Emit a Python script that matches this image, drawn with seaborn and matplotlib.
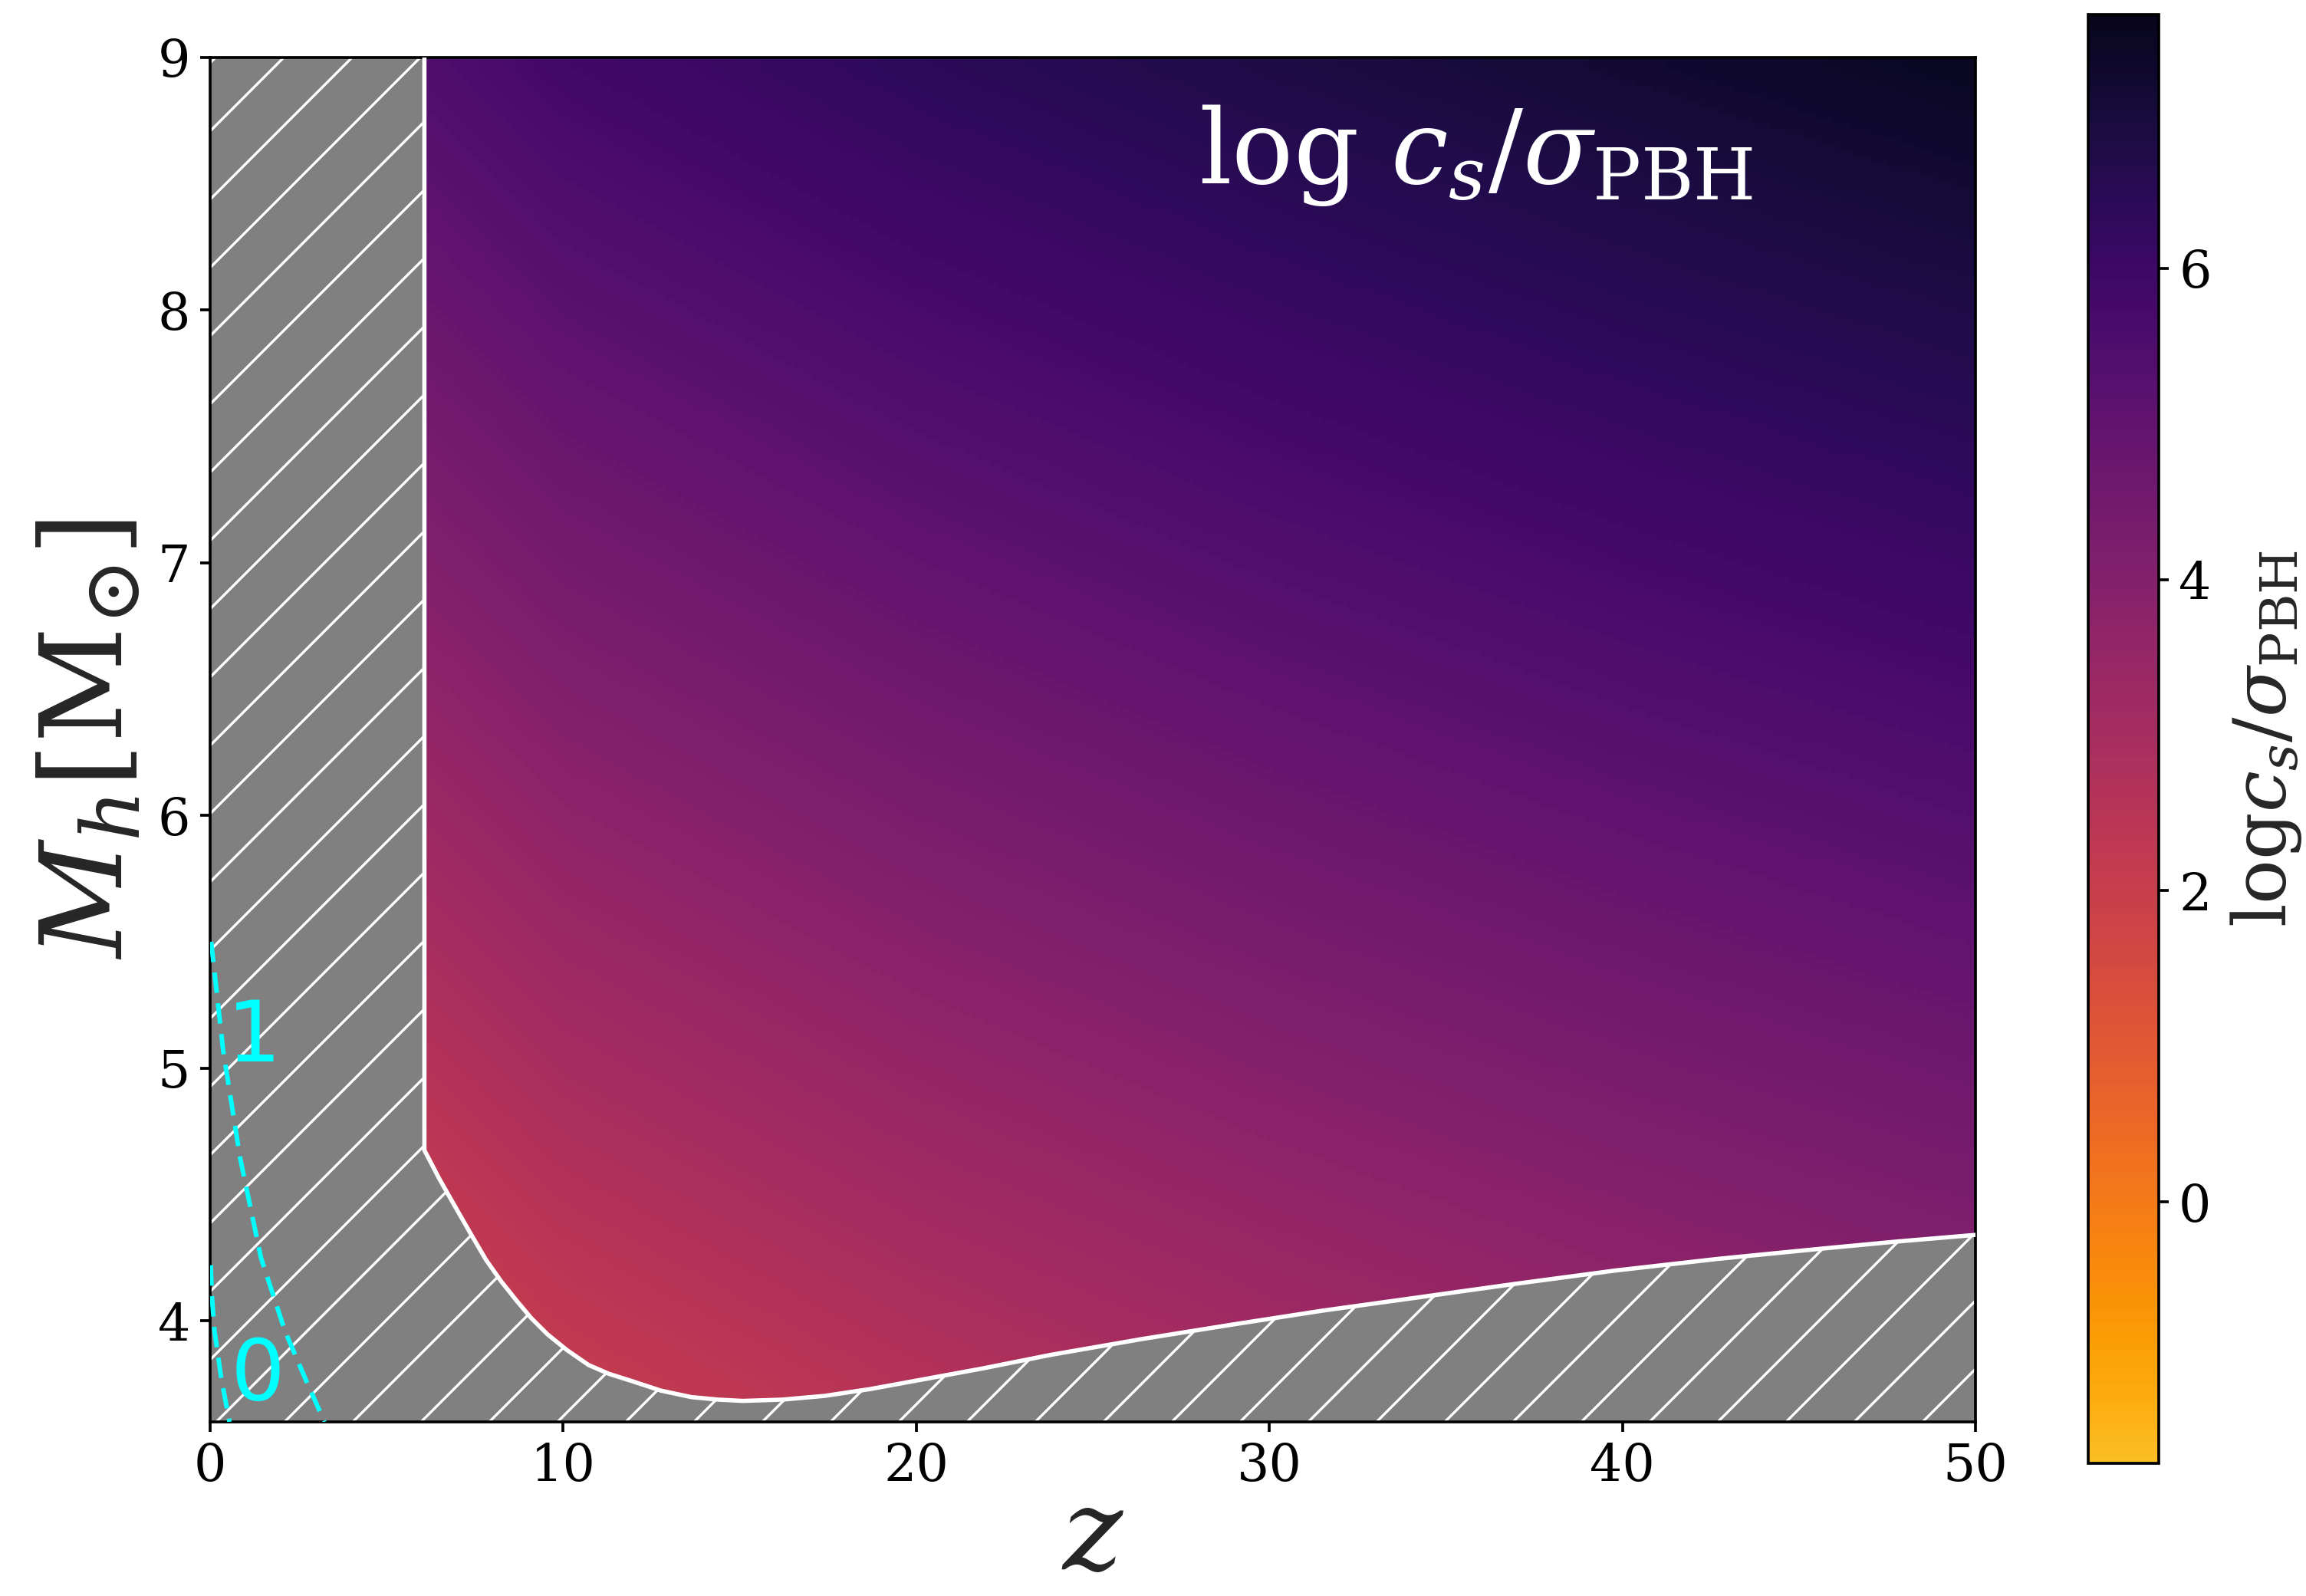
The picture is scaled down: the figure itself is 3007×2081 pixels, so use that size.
import numpy as np
import matplotlib
matplotlib.use("Agg")
import matplotlib.pyplot as plt
from matplotlib.colors import ListedColormap
import seaborn as sns

# log(c_s / sigma_PBH) sampled on a regular (z, log M_h) lattice
z_nodes = [0, 10, 20, 30, 40, 50]
logM_nodes = [3.6, 9.0]
log_ratio_low_mass = [0.96, 1.96, 2.50, 2.92, 3.28, 3.60]    # log M_h = 3.6
log_ratio_high_mass = [4.85, 5.85, 6.39, 6.81, 7.17, 7.49]   # log M_h = 9.0

# edge of the allowed region
z_edge = [6.07, 6.07, 6.5, 6.94, 7.4, 7.82, 8.25, 8.69, 9.1, 9.56, 10.1,
          10.72, 11.3, 11.89, 12.76, 13.63, 14.4, 15.08, 16.2, 17.41, 18.7,
          20.03, 21.9, 23.8, 26.4, 29.04, 31.5, 33.98, 36.9, 39.8, 42.7,
          45.6, 47.8, 50.0]
logM_edge = [9.0, 4.675, 4.56, 4.452, 4.34, 4.24, 4.155, 4.078, 4.01, 3.946,
             3.885, 3.825, 3.79, 3.764, 3.724, 3.698, 3.688, 3.683, 3.688,
             3.703, 3.73, 3.764, 3.812, 3.865, 3.928, 3.987, 4.04, 4.088,
             4.145, 4.199, 4.245, 4.285, 4.314, 4.34]

# dashed reference contours inside the excluded strip
contour_levels = ["1", "0"]
contour_z = [[0.03, 0.37, 0.85, 1.44, 2.12, 2.70, 3.24],
             [0.02, 0.05, 0.125, 0.32, 0.55]]
contour_logM = [[5.50, 5.07, 4.645, 4.25, 3.96, 3.77, 3.60],
                [4.22, 4.10, 3.96, 3.77, 3.60]]
contour_label_z = [1.24, 1.34]
contour_label_logM = [5.12, 3.78]

cbar_ticks = [0, 2, 4, 6]
vmin, vmax = -1.68, 7.63
z_range = (0, 50)
logM_range = (3.6, 9.0)

DPI = 267

sns.set_theme(style="ticks", rc={
    "axes.edgecolor": "black",
    "xtick.color": "black",
    "ytick.color": "black",
    "axes.linewidth": 1.0,
    "hatch.linewidth": 0.9,
    "hatch.color": "white",
})
plt.rcParams["font.family"] = ["DejaVu Serif"]
plt.rcParams["mathtext.fontset"] = "dejavuserif"

cmap = ListedColormap(plt.get_cmap("inferno")(np.linspace(0.85, 0.05, 256)))

fig = plt.figure(figsize=(3007 / DPI, 2081 / DPI), dpi=DPI)
ax = fig.add_axes([0.0911, 0.1091, 0.7656, 0.855])
cax = fig.add_axes([0.9056, 0.0831, 0.0306, 0.9078])

# map image: pixel centres sit on the lattice nodes, values blended before colouring
field = np.array([log_ratio_low_mass, log_ratio_high_mass])
dz = z_nodes[1] - z_nodes[0]
dM = logM_nodes[1] - logM_nodes[0]
img = ax.imshow(field, origin="lower", aspect="auto", cmap=cmap,
                vmin=vmin, vmax=vmax, interpolation="bilinear",
                interpolation_stage="data",
                extent=[z_nodes[0] - dz / 2, z_nodes[-1] + dz / 2,
                        logM_nodes[0] - dM / 2, logM_nodes[-1] + dM / 2],
                zorder=1)

# excluded region: left strip plus everything below the edge curve
poly_z = [z_range[0], z_range[0]] + z_edge + [z_range[1]]
poly_M = [logM_range[0], logM_range[1]] + logM_edge + [logM_range[0]]
ax.fill(poly_z, poly_M, facecolor="grey", edgecolor="white", hatch="/",
        linewidth=0, zorder=2)
sns.lineplot(x=z_edge, y=logM_edge, sort=False, estimator=None, ax=ax,
             color="white", linewidth=1.5, zorder=3)

for lab, zz, mm, lz, lm in zip(contour_levels, contour_z, contour_logM,
                               contour_label_z, contour_label_logM):
    ax.plot(zz, mm, color="cyan", linewidth=1.6, linestyle=(0, (4.5, 2.3)),
            zorder=4)
    ax.text(lz, lm, lab, color="cyan", fontsize=30, family="DejaVu Sans",
            ha="center", va="center", zorder=5)

ax.text(28.0, 8.5, r"log $c_s/\sigma_{\rm PBH}$", color="white",
        fontsize=36, ha="left", va="baseline", zorder=5)

ax.set_xlim(*z_range)
ax.set_ylim(*logM_range)
ax.set_xticks([0, 10, 20, 30, 40, 50])
ax.set_yticks([4, 5, 6, 7, 8, 9])
ax.tick_params(labelsize=18, length=3.5, width=1.0, pad=3.5)
ax.set_xlabel(r"$z$", fontsize=40, labelpad=-3)
ax.set_ylabel(r"$M_h[\mathrm{M}_{\odot}]$", fontsize=40, labelpad=4)

cb = fig.colorbar(img, cax=cax, ticks=cbar_ticks)
cb.ax.tick_params(labelsize=18, length=3.5, width=1.0, pad=3.5)
cb.set_label(r"log$c_s/\sigma_{\rm PBH}$", fontsize=26, labelpad=6)
cb.outline.set_linewidth(1.0)

fig.savefig("out.png", dpi=DPI)
